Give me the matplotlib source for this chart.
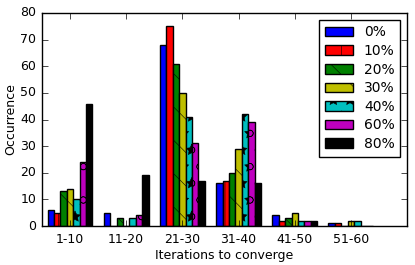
import numpy as np
import matplotlib
matplotlib.use('Agg')
import matplotlib.pyplot as plt

plt.style.use('classic')
plt.rcParams['hatch.linewidth'] = 0.4

groups = ['1-10', '11-20', '21-30', '31-40', '41-50', '51-60']
series = ['0%', '10%', '20%', '30%', '40%', '60%', '80%']
p0 = [6, 5, 68, 16, 4, 1]
p10 = [5, 0, 75, 17, 2, 1]
p20 = [13, 3, 61, 20, 3, 0]
p30 = [14, 0, 50, 29, 5, 2]
p40 = [10, 3, 41, 42, 2, 2]
p60 = [24, 4, 31, 39, 2, 0]
p80 = [46, 19, 17, 16, 2, 0]

colors = ['b', 'r', 'g', 'y', 'c', 'm', 'k']
hatches = ['', '|', '\\', '\\', '*', 'o', '']

fig, ax = plt.subplots(figsize=(4.15, 2.65), dpi=100)
fig.patch.set_facecolor('white')
ind = np.arange(len(groups))
width = 0.8 / len(series)
for k, (vals, c, h, lab) in enumerate(zip([p0, p10, p20, p30, p40, p60, p80],
                                          colors, hatches, series)):
    ax.bar(ind + 0.1 + k * width, vals, width, align='edge', color=c,
           hatch=h, edgecolor='k', linewidth=1, label=lab)

ax.set_xlim(0, 6.5)
ax.set_ylim(0, 80)
ax.set_xticks(ind + 0.5)
ax.set_xticklabels(groups, fontsize=9)
ax.set_yticks(np.arange(0, 81, 10))
ax.tick_params(axis='y', labelsize=9)
ax.tick_params(axis='x', pad=5)
ax.set_xlabel('Iterations to converge', fontsize=9, labelpad=2)
ax.set_ylabel('Occurrence', fontsize=9, labelpad=2)
ax.legend(loc='upper right', fontsize=10, handlelength=2.0, labelspacing=0.33,
          borderaxespad=0.5)
fig.subplots_adjust(left=0.101, right=0.981, top=0.951, bottom=0.147)
fig.savefig('out.png', dpi=100, facecolor='white')
